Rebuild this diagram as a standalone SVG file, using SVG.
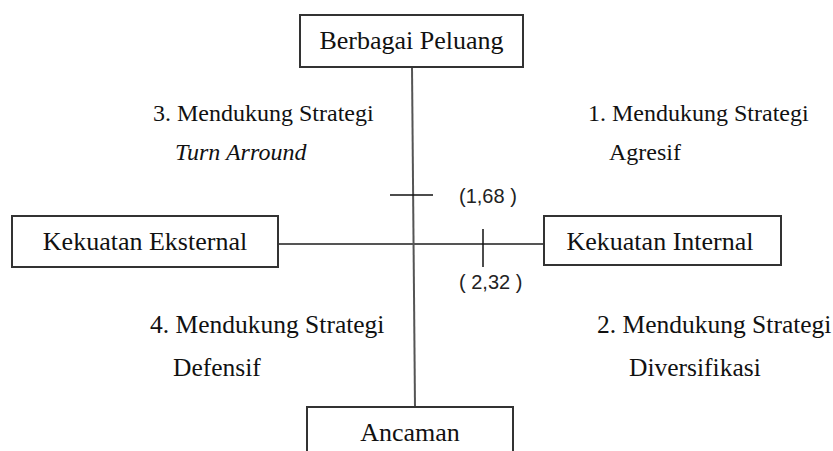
<svg xmlns="http://www.w3.org/2000/svg" width="833" height="451" viewBox="0 0 833 451">
<style>
.box{fill:#fff;stroke:#333;stroke-width:2}
.bt{font-family:'Liberation Serif','Times New Roman',serif;font-size:26px;fill:#111;text-anchor:middle}
.q{font-family:'Liberation Serif','Times New Roman',serif;fill:#111}
.num{font-family:'Liberation Sans',Arial,sans-serif;font-size:20px;fill:#222}
.axis{stroke:#555;stroke-width:2;fill:none}
.tick{stroke:#111;stroke-width:1.5;fill:none}
</style>
<rect width="833" height="451" fill="#fff"/>
<g id="connectors">
<line class="axis" x1="412" y1="67" x2="415" y2="407"/>
<line class="axis" x1="278" y1="244" x2="544" y2="244"/>
<line class="tick" x1="390" y1="195" x2="433" y2="195"/>
<line class="tick" x1="483" y1="229" x2="483" y2="267"/>
</g>
<g id="top">
<rect class="box" x="300" y="15" width="223" height="52"/>
<text class="bt" x="411.5" y="49">Berbagai Peluang</text>
</g>
<g id="left">
<rect class="box" x="12" y="216" width="266" height="51"/>
<text class="bt" x="145" y="250">Kekuatan Eksternal</text>
</g>
<g id="right">
<rect class="box" x="544" y="216" width="237" height="49"/>
<text class="bt" x="660" y="250">Kekuatan Internal</text>
</g>
<g id="bottom">
<rect class="box" x="307" y="407" width="206" height="60"/>
<text class="bt" x="410" y="441">Ancaman</text>
</g>
<g id="labels">
<text class="q" x="153" y="121" font-size="24">3. Mendukung Strategi</text>
<text class="q" x="175" y="160" font-size="24" font-style="italic">Turn Arround</text>
<text class="q" x="588" y="121" font-size="24">1. Mendukung Strategi</text>
<text class="q" x="609" y="160" font-size="24">Agresif</text>
<text class="q" x="150" y="333" font-size="25.5">4. Mendukung Strategi</text>
<text class="q" x="173" y="376" font-size="25.5">Defensif</text>
<text class="q" x="597" y="333" font-size="25.5">2. Mendukung Strategi</text>
<text class="q" x="629" y="376" font-size="25.5">Diversifikasi</text>
</g>
<g id="values">
<text class="num" x="459" y="203">(1,68 )</text>
<text class="num" x="459" y="289">( 2,32 )</text>
</g>
</svg>
